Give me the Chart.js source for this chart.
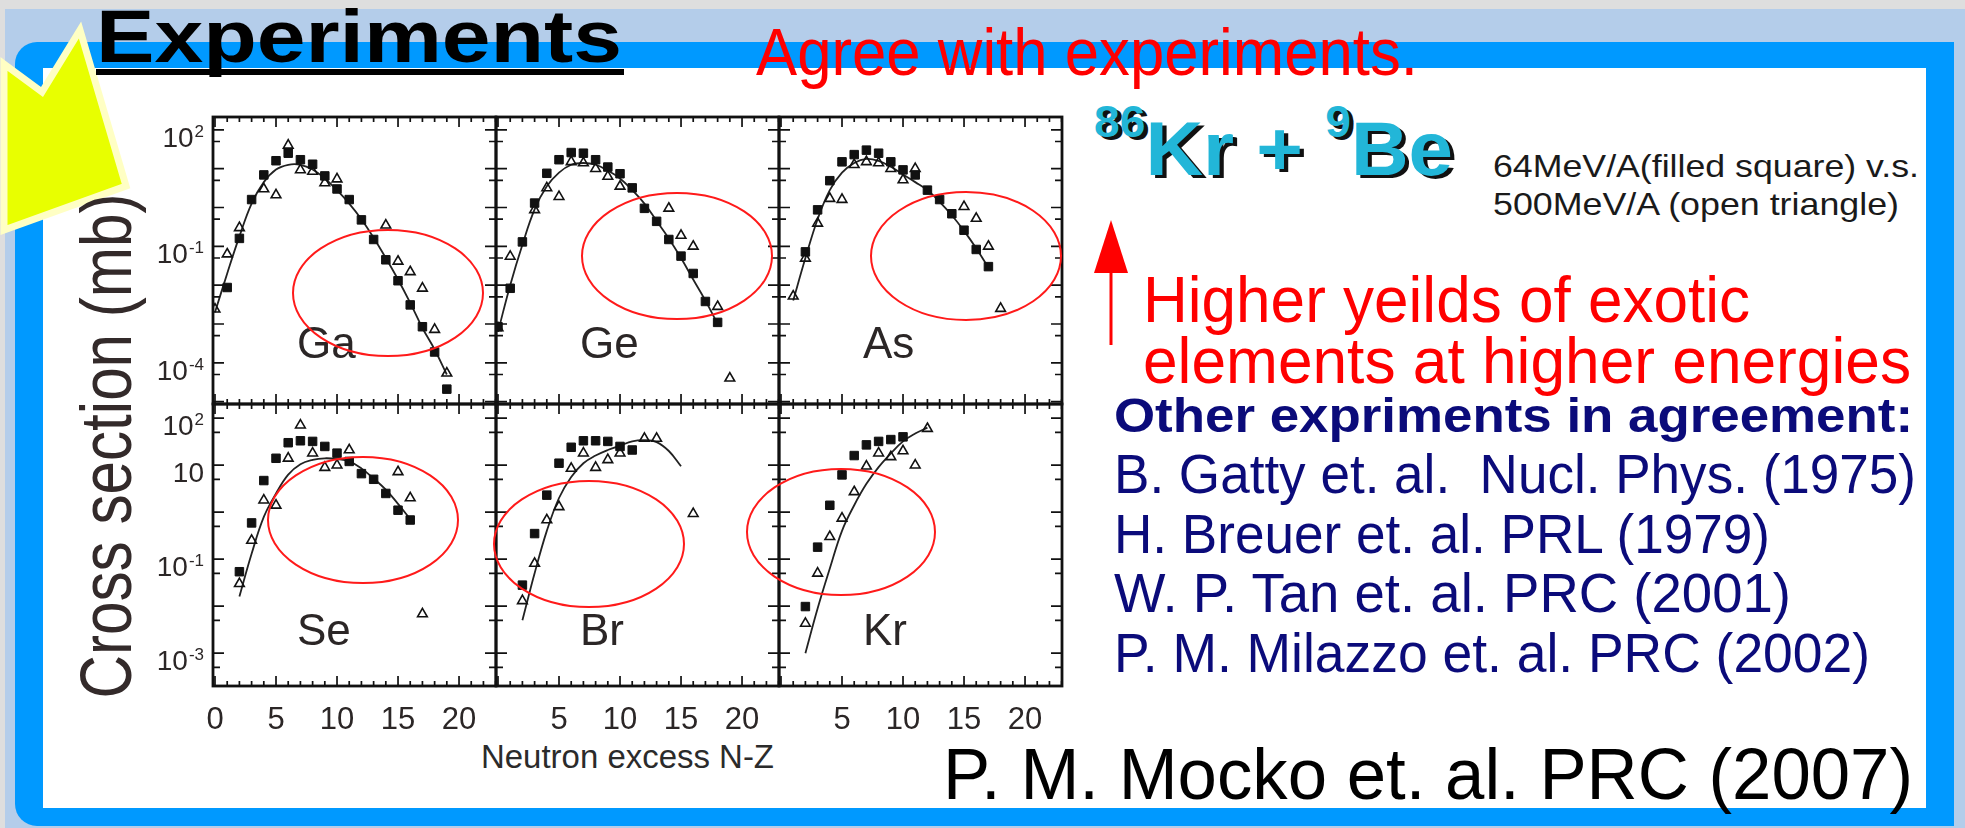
<!DOCTYPE html>
<html>
<head>
<meta charset="utf-8">
<script src="https://cdn.jsdelivr.net/npm/chart.js@4.4.1/dist/chart.umd.min.js"></script>
<style>
  html, body { margin: 0; padding: 0; }
  body { width: 1965px; height: 828px; position: relative; overflow: hidden; background: #dedede;
         font-family: "Liberation Sans", Arial, sans-serif; }
  .box { position: absolute; }
  #band  { left: 5px; top: 9px; width: 1960px; height: 819px; background: #b4cdea; }
  #frame { left: 15px; top: 42px; width: 1939px; height: 784px; background: #0099ff; border-radius: 22px 0 0 22px; }
  #sheet { left: 43px; top: 68px; width: 1883px; height: 740px; background: #fff; }
  .t { position: absolute; white-space: nowrap; line-height: 1; transform-origin: 0 0; }
  .sup { line-height: 0; font-size: 44px; vertical-align: 38px; }
  .panel { position: absolute; }
  #overlay { position: absolute; left: 0; top: 0; pointer-events: none; }
</style>
</head>
<body>
<div class="box" id="band"></div>
<div class="box" id="frame"></div>
<div class="box" id="sheet"></div>

<svg class="box" style="left:0;top:0" width="200" height="260">
  <polygon points="4,64 42,92 80,30 126,186 4,230" fill="#e8ff00" stroke="#ffffc4" stroke-width="7" stroke-linejoin="miter"/>
</svg>

<!-- Slide text -->
<div class="t" data-x="96" data-b="63" data-w="526" data-fs="74" style="font-weight:bold;color:#000">Experiments</div>
<div class="box" style="left:96px;top:69px;width:528px;height:6px;background:#000"></div>
<div class="t" data-x="756" data-b="75" data-w="662" data-fs="66" style="color:#ff0000">Agree with experiments.</div>

<div class="t" data-x="1094" data-b="175" data-w="359" data-fs="76" style="font-weight:bold;color:#22b6d8;text-shadow:4px 3px 0 #111"><span class="sup">86</span>Kr + <span class="sup">9</span>Be</div>
<div class="t" data-x="1493" data-b="177" data-w="426" data-fs="32" style="color:#1a1a1a">64MeV/A(filled square) v.s.</div>
<div class="t" data-x="1493" data-b="215" data-w="406" data-fs="32" style="color:#1a1a1a">500MeV/A (open triangle)</div>

<div class="t" data-x="1143" data-b="322" data-w="607" data-fs="64" style="color:#ff0000">Higher yeilds of exotic</div>
<div class="t" data-x="1143" data-b="383" data-w="768" data-fs="64" style="color:#ff0000">elements at higher energies</div>

<div class="t" data-x="1114" data-b="433" data-w="799" data-fs="48" style="font-weight:bold;color:#0b0b7a">Other expriments in agreement:</div>
<div class="t" data-x="1114" data-b="493" data-w="802" data-fs="56" style="color:#0b0b7a">B. Gatty et. al.&nbsp; Nucl. Phys. (1975)</div>
<div class="t" data-x="1114" data-b="553" data-w="656" data-fs="56" style="color:#0b0b7a">H. Breuer et. al. PRL (1979)</div>
<div class="t" data-x="1114" data-b="612" data-w="677" data-fs="56" style="color:#0b0b7a">W. P. Tan et. al. PRC (2001)</div>
<div class="t" data-x="1114" data-b="672" data-w="756" data-fs="56" style="color:#0b0b7a">P. M. Milazzo et. al. PRC (2002)</div>
<div class="t" data-x="943" data-b="799" data-w="970" data-fs="72" style="color:#000">P. M. Mocko et. al. PRC (2007)</div>

<div class="t" data-x="481" data-b="768" data-w="293" data-fs="34" style="color:#2b2b2b">Neutron excess N-Z</div>
<div class="t" id="yTitle" style="color:#332a2a;font-size:72px;transform-origin:50% 50%">Cross section (mb)</div>

<!-- Panels -->
<div class="panel" id="wGa"><canvas id="cGa"></canvas></div>
<div class="panel" id="wGe"><canvas id="cGe"></canvas></div>
<div class="panel" id="wAs"><canvas id="cAs"></canvas></div>
<div class="panel" id="wSe"><canvas id="cSe"></canvas></div>
<div class="panel" id="wBr"><canvas id="cBr"></canvas></div>
<div class="panel" id="wKr"><canvas id="cKr"></canvas></div>

<svg id="overlay" width="1965" height="828">
  <g fill="none" stroke="#ff1a1a" stroke-width="2">
    <ellipse cx="388" cy="293" rx="95" ry="63"/>
    <ellipse cx="677" cy="256" rx="95" ry="63"/>
    <ellipse cx="966" cy="256" rx="95" ry="64"/>
    <ellipse cx="363" cy="520" rx="95" ry="63"/>
    <ellipse cx="589" cy="544" rx="95" ry="63"/>
    <ellipse cx="841" cy="532" rx="94" ry="63"/>
  </g>
  <line x1="1111" y1="345" x2="1111" y2="268" stroke="#ff0000" stroke-width="3"/>
  <polygon points="1111,220 1094,273 1128,273" fill="#ff0000"/>
</svg>

<script>
// ===== Data: cross sections (mb) vs neutron excess N-Z =====
// Ga
const gaSqX  = [1, 2, 3, 4, 5, 6, 7, 8, 9, 10, 11, 12, 13, 14, 15, 16, 17, 18, 19];
const gaSqY  = [8.7e-3, 0.16, 1.6, 6.9, 16, 25, 17, 13, 6.5, 3.0, 1.6, 0.48, 0.15, 0.045, 0.013, 3.1e-3, 8.5e-4, 1.9e-4, 2.1e-5];
const gaTriX = [0, 1, 2, 4, 5, 6, 7, 8, 9, 10, 14, 15, 16, 17, 18, 19];
const gaTriY = [2.4e-3, 0.063, 0.3, 3.0, 2.1, 40, 9.3, 8.5, 4.3, 5.4, 0.35, 0.041, 0.022, 8.3e-3, 7.2e-4, 5.4e-5];
const gaFitX = [0, 1, 2, 3, 4, 5, 6, 7, 8, 9, 10, 11, 12, 13, 14, 15, 16, 17, 18, 19];
const gaFitY = [2.0e-3, 0.02, 0.18, 1.26, 4.5, 9.5, 12.6, 12.6, 9.5, 5.6, 2.8, 1.26, 0.5, 0.166, 0.05, 0.014, 3.5e-3, 7.9e-4, 2.2e-4, 5.0e-5];
// Ge
const geSqX  = [0, 1, 2, 3, 4, 5, 6, 7, 8, 9, 10, 11, 12, 13, 14, 15, 16, 17, 18];
const geSqY  = [8.5e-4, 8.3e-3, 0.13, 1.3, 7.6, 17, 26, 25, 17, 11, 7.4, 3.2, 0.95, 0.44, 0.15, 0.056, 0.02, 3.8e-3, 1.1e-3];
const geTriX = [0, 1, 3, 4, 5, 6, 7, 8, 9, 10, 14, 15, 16, 18, 19];
const geTriY = [7.9e-4, 0.055, 0.87, 3.2, 1.9, 15, 14, 10, 6.3, 3.5, 0.95, 0.19, 0.1, 2.8e-3, 4.0e-5];
const geFitX = [0, 1, 2, 3, 4, 5, 6, 7, 8, 9, 10, 11, 12, 13, 14, 15, 16, 17, 18];
const geFitY = [6.3e-4, 0.01, 0.11, 0.89, 3.5, 7.9, 12.6, 14, 12.6, 8.9, 5.6, 2.8, 1.26, 0.45, 0.16, 0.05, 0.014, 4.0e-3, 1.0e-3];
// As
const asSqX  = [2, 3, 4, 5, 6, 7, 8, 9, 10, 11, 12, 13, 14, 15, 16, 17];
const asSqY  = [0.072, 0.87, 4.9, 15, 23, 30, 25, 15, 9.3, 6.9, 2.8, 1.6, 0.69, 0.26, 0.083, 0.03];
const asTriX = [1, 2, 3, 4, 5, 6, 7, 8, 9, 10, 11, 15, 16, 17, 18];
const asTriY = [5.2e-3, 0.049, 0.39, 1.7, 1.6, 12.6, 15, 14, 10, 5.1, 10, 1.05, 0.52, 0.1, 2.5e-3];
const asFitX = [1, 2, 3, 4, 5, 6, 7, 8, 9, 10, 11, 12, 13, 14, 15, 16, 17];
const asFitY = [4.0e-3, 0.05, 0.5, 2.8, 7.9, 14, 17.8, 15.8, 11.2, 7.1, 4.5, 2.8, 1.4, 0.63, 0.25, 0.089, 0.028];
// Se
const seSqX  = [2, 3, 4, 5, 6, 7, 8, 9, 10, 11, 12, 13, 14, 15, 16];
const seSqY  = [0.054, 0.59, 4.7, 14, 30, 33, 32, 25, 18, 12, 6.6, 5.0, 2.5, 1.1, 0.68];
const seTriX = [2, 3, 4, 5, 6, 7, 8, 9, 10, 11, 15, 16, 17];
const seTriY = [0.03, 0.25, 1.8, 1.4, 14, 71, 18, 8.9, 10, 21, 7.2, 2.0, 6.8e-3];
const seFitX = [2, 3, 4, 5, 6, 7, 8, 9, 10, 11, 12, 13, 14, 15, 16];
const seFitY = [0.016, 0.13, 0.79, 2.5, 6.3, 10.5, 13, 14, 13.5, 12, 8.5, 5.2, 3.0, 1.5, 0.71];
// Br
const brSqX  = [2, 3, 4, 5, 6, 7, 8, 9, 10, 11];
const brSqY  = [0.028, 0.35, 2.3, 11, 24, 33, 33, 32, 25, 21];
const brTriX = [2, 3, 4, 5, 6, 7, 8, 9, 10, 12, 13, 16];
const brTriY = [0.013, 0.081, 0.68, 1.3, 8.5, 18, 8.9, 13, 18, 37, 37, 0.93];
const brFitX = [2, 3, 4, 5, 6, 7, 8, 9, 10, 11, 12, 13, 14, 15];
const brFitY = [5.0e-3, 0.05, 0.4, 2.0, 5.6, 11, 16, 21, 26, 32, 34, 31, 20, 9.5];
// Kr
const krSqX  = [2, 3, 4, 5, 6, 7, 8, 9, 10];
const krSqY  = [9.8e-3, 0.18, 1.4, 6.2, 16, 27, 32, 35, 40];
const krTriX = [2, 3, 4, 5, 6, 7, 8, 9, 10, 11, 12];
const krTriY = [4.3e-3, 0.05, 0.3, 0.74, 2.7, 9.5, 18, 15, 20, 10, 60];
const krFitX = [2, 3, 4, 5, 6, 7, 8, 9, 10, 11, 12];
const krFitY = [1.0e-3, 8.9e-3, 0.063, 0.4, 1.4, 4.0, 9.1, 17.8, 32, 47, 63];

// ===== Axes / ticks =====
const xRange = [-0.164, 23.03];
const topYRange = [8.7e-6, 214];
const botYRange = [2.0e-4, 200];
const topDecades = [1e-5, 1e-4, 1e-3, 1e-2, 1e-1, 1, 10, 100];
const botDecades = [1e-3, 1e-2, 1e-1, 1, 10, 100];
const xMajorTicks = [0, 5, 10, 15, 20];
const topYTickValues = [1e2, 1e-1, 1e-4];
const topYTickLabels = [['10', '2'], ['10', '-1'], ['10', '-4']];
const botYTickValues = [1e2, 10, 1e-1, 1e-3];
const botYTickLabels = [['10', '2'], ['10', ''], ['10', '-1'], ['10', '-3']];
const firstXTickLabels = ['0', '5', '10', '15', '20'];
const otherXTickLabels = ['', '5', '10', '15', '20'];

// ===== Panel geometry =====
const PAD = { l: 70, r: 10, t: 10, b: 52 };
const panels = [
  { id: 'Ga', left: 213, top: 117, w: 283, h: 287, sq: [gaSqX, gaSqY], tri: [gaTriX, gaTriY], fit: [gaFitX, gaFitY], yr: topYRange, dec: topDecades, yl: [topYTickValues, topYTickLabels], xl: null },
  { id: 'Ge', left: 496, top: 117, w: 283, h: 287, sq: [geSqX, geSqY], tri: [geTriX, geTriY], fit: [geFitX, geFitY], yr: topYRange, dec: topDecades, yl: null, xl: null },
  { id: 'As', left: 779, top: 117, w: 283, h: 287, sq: [asSqX, asSqY], tri: [asTriX, asTriY], fit: [asFitX, asFitY], yr: topYRange, dec: topDecades, yl: null, xl: null },
  { id: 'Se', left: 213, top: 404, w: 283, h: 282, sq: [seSqX, seSqY], tri: [seTriX, seTriY], fit: [seFitX, seFitY], yr: botYRange, dec: botDecades, yl: [botYTickValues, botYTickLabels], xl: firstXTickLabels },
  { id: 'Br', left: 496, top: 404, w: 283, h: 282, sq: [brSqX, brSqY], tri: [brTriX, brTriY], fit: [brFitX, brFitY], yr: botYRange, dec: botDecades, yl: null, xl: otherXTickLabels },
  { id: 'Kr', left: 779, top: 404, w: 283, h: 282, sq: [krSqX, krSqY], tri: [krTriX, krTriY], fit: [krFitX, krFitY], yr: botYRange, dec: botDecades, yl: null, xl: otherXTickLabels },
];

const FONT = '"Liberation Sans", Arial, sans-serif';

// ===== Frame, inward ticks, labels =====
const panelDecor = {
  id: 'panelDecor',
  afterDatasetsDraw(chart, args, o) {
    const { ctx, chartArea: a, scales: { x, y } } = chart;
    ctx.save();
    ctx.strokeStyle = '#111';
    ctx.lineWidth = 1.7;
    ctx.beginPath();
    for (let v = Math.ceil(x.min); v <= x.max; v++) {
      const px = x.getPixelForValue(v);
      const len = v % 5 === 0 ? 10 : 5;
      ctx.moveTo(px, a.top); ctx.lineTo(px, a.top + len);
      ctx.moveTo(px, a.bottom); ctx.lineTo(px, a.bottom - len);
    }
    o.decades.forEach(d => {
      [[d, 11], [d * 0.5, 7]].forEach(([v, len]) => {
        if (v < y.min || v > y.max) return;
        const py = y.getPixelForValue(v);
        ctx.moveTo(a.left, py); ctx.lineTo(a.left + len, py);
        ctx.moveTo(a.right, py); ctx.lineTo(a.right - len, py);
      });
    });
    ctx.stroke();

    ctx.lineWidth = 2.8;
    ctx.strokeRect(a.left, a.top, a.right - a.left, a.bottom - a.top);

    ctx.fillStyle = '#2b2626';
    ctx.font = '44px ' + FONT;
    ctx.textAlign = 'left';
    ctx.textBaseline = 'alphabetic';
    ctx.fillText(o.name, a.left + 84, a.top + 241);

    if (o.yLabels) {
      const [vals, labs] = o.yLabels;
      vals.forEach((v, i) => {
        const py = y.getPixelForValue(v) + 17;
        const [base, sup] = labs[i];
        let right = a.left - 9;
        ctx.textAlign = 'right';
        if (sup) {
          ctx.font = '17px ' + FONT;
          ctx.fillText(sup, right, py - 10);
          right -= ctx.measureText(sup).width + 1;
        }
        ctx.font = '28px ' + FONT;
        ctx.fillText(base, right, py);
      });
    }
    if (o.xLabels) {
      ctx.font = '31px ' + FONT;
      ctx.textAlign = 'center';
      xMajorTicks.forEach((v, i) => {
        if (!o.xLabels[i]) return;
        ctx.fillText(o.xLabels[i], x.getPixelForValue(v), a.bottom + 43);
      });
    }
    ctx.restore();
  }
};

function pairs([xs, ys]) {
  return xs.map((x, i) => ({ x, y: ys[i] }));
}

// ===== Build the six panels =====
panels.forEach(p => {
  const wrap = document.getElementById('w' + p.id);
  const cw = p.w + PAD.l + PAD.r, ch = p.h + PAD.t + PAD.b;
  wrap.style.left = (p.left - PAD.l) + 'px';
  wrap.style.top = (p.top - PAD.t) + 'px';
  const canvas = document.getElementById('c' + p.id);
  canvas.width = cw; canvas.height = ch;
  canvas.style.width = cw + 'px'; canvas.style.height = ch + 'px';

  new Chart(canvas, {
    type: 'scatter',
    data: {
      datasets: [
        { label: '64 MeV/A', data: pairs(p.sq), pointStyle: 'rect', pointRadius: 6,
          backgroundColor: '#111', borderColor: '#111', borderWidth: 1 },
        { label: '500 MeV/A', data: pairs(p.tri), pointStyle: 'triangle', pointRadius: 5.6,
          backgroundColor: 'rgba(255,255,255,0)', borderColor: '#111', borderWidth: 1.6 },
        { label: 'fit', data: pairs(p.fit), showLine: true, pointRadius: 0, tension: 0.4,
          borderColor: '#222', borderWidth: 1.8, fill: false }
      ]
    },
    options: {
      responsive: false,
      animation: false,
      devicePixelRatio: 1,
      events: [],
      layout: { padding: { left: PAD.l, right: PAD.r, top: PAD.t, bottom: PAD.b } },
      plugins: {
        legend: { display: false },
        tooltip: { enabled: false },
        panelDecor: { name: p.id, decades: p.dec, yLabels: p.yl, xLabels: p.xl }
      },
      scales: {
        x: { type: 'linear', min: xRange[0], max: xRange[1], bounds: 'data', display: false },
        y: { type: 'logarithmic', min: p.yr[0], max: p.yr[1], bounds: 'data', display: false }
      }
    },
    plugins: [panelDecor]
  });
});

// ===== Fit slide text to its measured box =====
document.querySelectorAll('.t[data-w]').forEach(el => {
  const fs = parseFloat(el.dataset.fs);
  el.style.fontSize = fs + 'px';
  el.style.left = el.dataset.x + 'px';
  el.style.top = (parseFloat(el.dataset.b) - 0.8465 * fs) + 'px';
  const w = el.getBoundingClientRect().width;
  el.style.transform = `scaleX(${parseFloat(el.dataset.w) / w})`;
});

const yTitle = document.getElementById('yTitle');
const tw = yTitle.getBoundingClientRect().width;
yTitle.style.left = (106 - tw / 2) + 'px';
yTitle.style.top = (446 - 36) + 'px';
yTitle.style.transform = `rotate(-90deg) scaleX(${505 / tw})`;
</script>
</body>
</html>
